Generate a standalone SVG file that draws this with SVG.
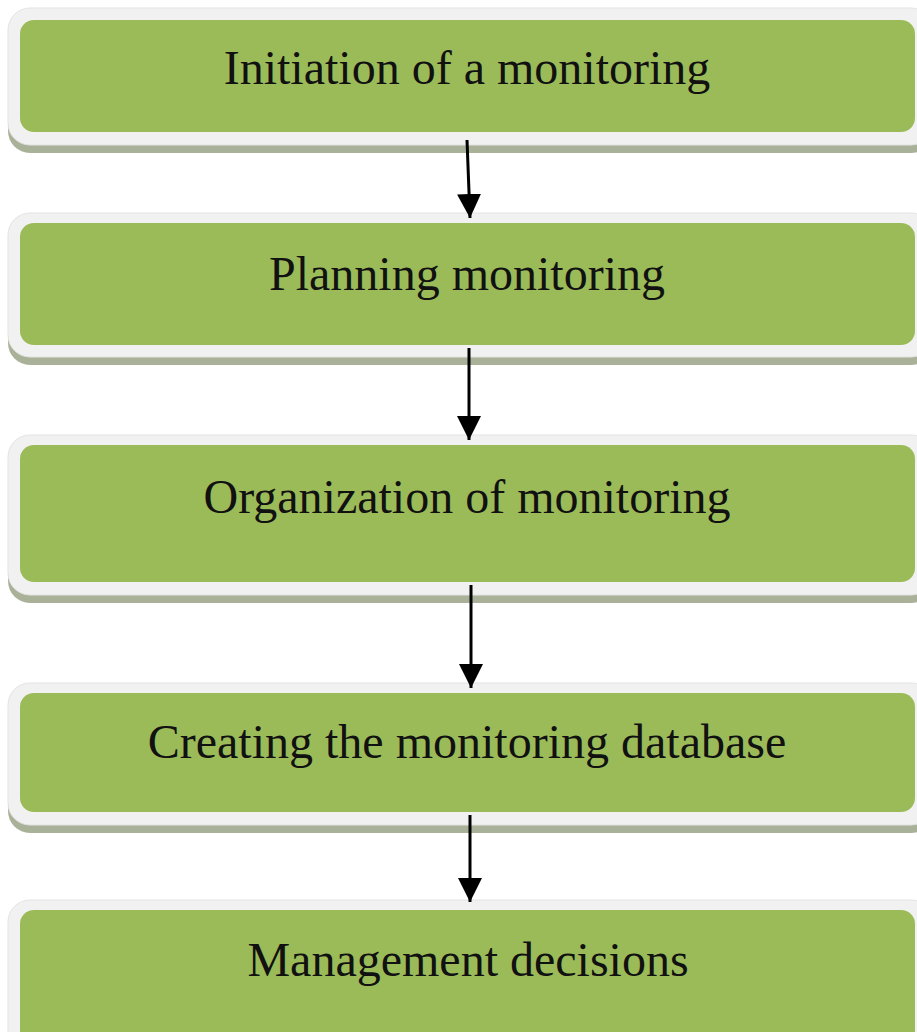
<svg xmlns="http://www.w3.org/2000/svg" width="917" height="1032" viewBox="0 0 917 1032">
  <style>
    .shadow { fill: #a9b298; }
    .outer { fill: #f1f1f1; stroke: #e3e3e3; stroke-width: 1; }
    .inner { fill: #9bbb59; }
    .label { font-family: "Liberation Serif", "Times New Roman", serif; font-size: 48px; fill: #111111; text-anchor: middle; }
    .conn { stroke: #000000; stroke-width: 3; fill: none; marker-end: url(#arrow); }
  </style>
  <defs>
    <marker id="arrow" markerUnits="userSpaceOnUse" markerWidth="24" markerHeight="24" refX="24" refY="12" orient="auto">
      <path d="M0,0 L24,12 L0,24 z" fill="#000000"/>
    </marker>
  </defs>
  <rect width="917" height="1032" fill="#ffffff"/>

  <g id="node1">
    <rect class="shadow" x="8" y="16" width="925" height="137" rx="22"/>
    <rect class="outer" x="8" y="8" width="925" height="137" rx="22"/>
    <rect class="inner" x="20" y="20" width="895" height="112" rx="14"/>
    <text class="label" x="467" y="84">Initiation of a monitoring</text>
  </g>

  <g id="node2">
    <rect class="shadow" x="8" y="221" width="925" height="144" rx="22"/>
    <rect class="outer" x="8" y="213" width="925" height="144" rx="22"/>
    <rect class="inner" x="20" y="223" width="895" height="122" rx="14"/>
    <text class="label" x="467" y="290">Planning monitoring</text>
  </g>

  <g id="node3">
    <rect class="shadow" x="8" y="443" width="925" height="160" rx="22"/>
    <rect class="outer" x="8" y="435" width="925" height="160" rx="22"/>
    <rect class="inner" x="20" y="445" width="895" height="137" rx="14"/>
    <text class="label" x="467" y="513">Organization of monitoring</text>
  </g>

  <g id="node4">
    <rect class="shadow" x="8" y="691" width="925" height="142" rx="22"/>
    <rect class="outer" x="8" y="683" width="925" height="142" rx="22"/>
    <rect class="inner" x="20" y="693" width="895" height="119" rx="14"/>
    <text class="label" x="467" y="758">Creating the monitoring database</text>
  </g>

  <g id="node5">
    <rect class="outer" x="8" y="900" width="925" height="160" rx="22"/>
    <rect class="inner" x="20" y="910" width="895" height="140" rx="14"/>
    <text class="label" x="468" y="976">Management decisions</text>
  </g>

  <g id="connectors">
    <path class="conn" d="M467,140 L470,218"/>
    <path class="conn" d="M469,348 L469,440"/>
    <path class="conn" d="M471,585 L471,688"/>
    <path class="conn" d="M470,815 L470,902"/>
  </g>
</svg>
